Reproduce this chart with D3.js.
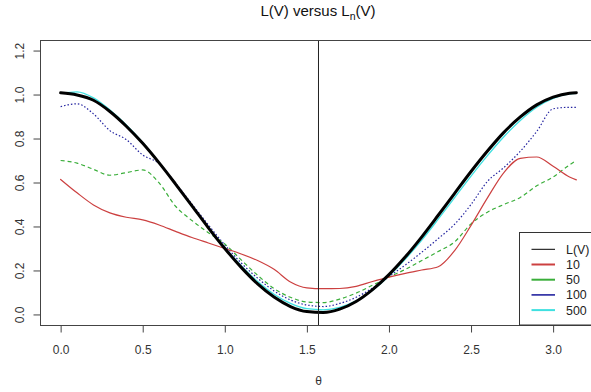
<!DOCTYPE html>
<html><head><meta charset="utf-8">
<script src="https://cdn.jsdelivr.net/npm/d3@7"></script>
<style>
html,body{margin:0;padding:0;background:#fff;}
svg{display:block;font-family:"Liberation Sans",Arial,sans-serif;}
</style></head>
<body>
<svg id="chart" width="591" height="392"></svg>
<script>
// theta grid (radians)
const theta = [0,0.1,0.2,0.3,0.4,0.5,0.6,0.7,0.8,0.9,1.0,1.1,1.2,1.3,1.4,1.5,1.6,1.7,1.8,1.9,2.0,2.1,2.2,2.3,2.4,2.5,2.6,2.7,2.8,2.9,3.0,3.1,3.1416];
// L(V)
const valLV  = [1.008,0.998,0.974,0.923,0.856,0.778,0.689,0.593,0.494,0.394,0.300,0.214,0.139,0.079,0.036,0.013,0.009,0.024,0.059,0.113,0.181,0.262,0.353,0.451,0.551,0.650,0.743,0.828,0.898,0.953,0.988,1.006,1.008];
// L_n(V), n = 10
const val10  = [0.614,0.553,0.498,0.462,0.442,0.430,0.407,0.378,0.350,0.325,0.300,0.275,0.245,0.205,0.148,0.121,0.117,0.118,0.128,0.150,0.170,0.187,0.202,0.217,0.290,0.405,0.530,0.645,0.710,0.716,0.674,0.625,0.612];
// n = 50
const val50  = [0.700,0.688,0.660,0.633,0.645,0.657,0.598,0.492,0.427,0.372,0.320,0.248,0.178,0.118,0.078,0.057,0.054,0.070,0.097,0.133,0.170,0.205,0.245,0.286,0.330,0.412,0.465,0.500,0.532,0.585,0.625,0.680,0.700];
// n = 100
const val100 = [0.945,0.958,0.912,0.836,0.795,0.725,0.686,0.597,0.502,0.407,0.316,0.234,0.165,0.107,0.066,0.043,0.036,0.050,0.078,0.120,0.172,0.225,0.283,0.345,0.410,0.500,0.605,0.668,0.742,0.832,0.935,0.942,0.942];
// n = 500
const val500 = [1.005,1.012,0.985,0.930,0.862,0.782,0.690,0.592,0.493,0.396,0.305,0.222,0.150,0.092,0.050,0.026,0.021,0.032,0.062,0.110,0.175,0.252,0.338,0.433,0.531,0.629,0.722,0.808,0.882,0.942,0.982,1.003,1.005];

const legendLabels = ["L(V)","10","50","100","500"];
const xTicks = [0,0.5,1.0,1.5,2.0,2.5,3.0];
const yTicks = [0,0.2,0.4,0.6,0.8,1.0,1.2];

const svg = d3.select("#chart");
const pL = 40, pR = 597, pT = 40, pB = 325;
const x = d3.scaleLinear().domain([-0.1257, 3.2673]).range([pL, pR]);
const y = d3.scaleLinear().domain([-0.048, 1.248]).range([pB, pT]);

const series = [
  {vals: val500, color: "#3fe0e0", w: 1.3, dash: null},
  {vals: val100, color: "#2424a0", w: 1.2, dash: "1.5,2"},
  {vals: val50,  color: "#3aae3a", w: 1.2, dash: "4,3"},
  {vals: val10,  color: "#cc4040", w: 1.2, dash: null},
  {vals: valLV,  color: "#000000", w: 3,   dash: null}
];

const line = d3.line().x((d,i)=>x(theta[i])).y(d=>y(d)).curve(d3.curveMonotoneX);

svg.append("defs").append("clipPath").attr("id","clip")
  .append("rect").attr("x",pL).attr("y",pT).attr("width",pR-pL).attr("height",pB-pT);

const plot = svg.append("g").attr("clip-path","url(#clip)");
series.forEach(s=>{
  plot.append("path").datum(s.vals)
    .attr("d", line)
    .attr("fill","none")
    .attr("stroke", s.color)
    .attr("stroke-width", s.w)
    .attr("stroke-dasharray", s.dash)
    .attr("stroke-linejoin","round")
    .attr("stroke-linecap", s.dash ? "butt" : "round");
});

// vertical line at pi/2
svg.append("line")
  .attr("x1", x(Math.PI/2)).attr("x2", x(Math.PI/2))
  .attr("y1", pT).attr("y2", pB)
  .attr("stroke","#222").attr("stroke-width",1);

// box
svg.append("rect").attr("x",pL+0.5).attr("y",pT+0.5)
  .attr("width", pR-pL).attr("height", pB-pT)
  .attr("fill","none").attr("stroke","#444").attr("stroke-width",1);

// x axis
const xAxis = svg.append("g").attr("transform",`translate(0,${pB+0.5})`)
  .call(d3.axisBottom(x).tickValues(xTicks).tickFormat(d3.format(".1f")).tickSize(7).tickPadding(13));
xAxis.select(".domain").remove();
xAxis.selectAll("line").attr("stroke","#444");
xAxis.selectAll("text").attr("font-size","12px").attr("fill","#333")
  .attr("font-family",'"Liberation Sans",Arial,sans-serif');

// y axis
const yAxis = svg.append("g").attr("transform",`translate(${pL+0.5},0)`)
  .call(d3.axisLeft(y).tickValues(yTicks).tickFormat(d3.format(".1f")).tickSize(7));
yAxis.select(".domain").remove();
yAxis.selectAll("line").attr("stroke","#444");
yAxis.selectAll("text")
  .attr("x",0).attr("y",-17).attr("dy",0)
  .attr("transform","rotate(-90)")
  .attr("text-anchor","middle")
  .attr("font-size","12px").attr("fill","#333")
  .attr("font-family",'"Liberation Sans",Arial,sans-serif');

// x label
svg.append("text").attr("x", x(Math.PI/2)).attr("y", 385)
  .attr("text-anchor","middle").attr("font-size","12px").attr("fill","#333")
  .text("θ");

// title
const title = svg.append("text").attr("x", 318).attr("y", 15.5)
  .attr("text-anchor","middle").attr("font-size","15px").attr("fill","#111");
title.append("tspan").text("L(V) versus L");
title.append("tspan").attr("font-size","10.5px").attr("dy",4).text("n");
title.append("tspan").attr("dy",-4).text("(V)");

// legend
const lg = svg.append("g");
lg.append("rect").attr("x",519.5).attr("y",232.5).attr("width",pR-519.5).attr("height",pB-232.5)
  .attr("fill","#fff").attr("stroke","#333").attr("stroke-width",1);
const lgColors = ["#000000","#cc4040","#3aae3a","#2424a0","#3fe0e0"];
const lgWidths = [1,2,2,1.6,2];
const rowY = [249.3,264.5,279.7,294.9,310.1];
legendLabels.forEach((lab,i)=>{
  lg.append("line").attr("x1",531.5).attr("x2",555).attr("y1",rowY[i]).attr("y2",rowY[i])
    .attr("stroke",lgColors[i]).attr("stroke-width",lgWidths[i]);
  lg.append("text").attr("x",566).attr("y",rowY[i]+4.4).attr("font-size","12.4px").attr("fill","#222").text(lab);
});
</script>
</body></html>
